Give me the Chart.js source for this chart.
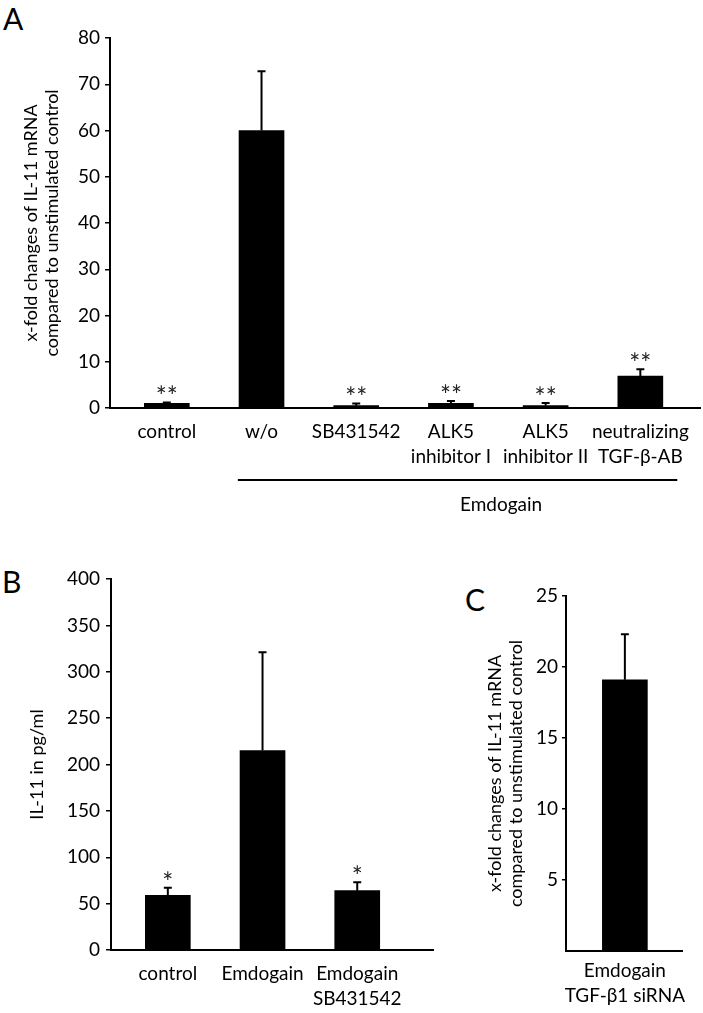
<!DOCTYPE html>
<html>
<head>
<meta charset="utf-8">
<script src="https://cdn.jsdelivr.net/npm/chart.js@4.4.0/dist/chart.umd.min.js"></script>
<style>
  body { margin: 0; background: #fff; }
  #page { position: relative; width: 703px; height: 1013px; font-family: Lato, sans-serif; color: #000; }
  .box { position: absolute; }
  .letter { position: absolute; font-size: 30px; line-height: 1; }
</style>
</head>
<body>
<div id="page">
  <div class="letter" style="left:3px; top:3px;">A</div>
  <div class="letter" style="left:2px; top:566px;">B</div>
  <div class="letter" style="left:465px; top:584px;">C</div>
  <div class="box" style="left:0; top:0;"><canvas id="chartA" width="703" height="520"></canvas></div>
  <div class="box" style="left:0; top:540px;"><canvas id="chartB" width="460" height="473"></canvas></div>
  <div class="box" style="left:440px; top:540px;"><canvas id="chartC" width="263" height="473"></canvas></div>
</div>
<script>
// Panel A - IL-11 mRNA
const catsA = ['control', 'w/o', 'SB431542', ['ALK5', 'inhibitor I'], ['ALK5', 'inhibitor II'], ['neutralizing', 'TGF-β-AB']];
const valuesA = [1.0, 60.0, 0.5, 1.0, 0.5, 6.9];
const errorsA = [0.2, 12.8, 0.5, 0.5, 0.6, 1.5];
const starsA = ['**', '', '**', '**', '**', '**'];
const ticksA = [0, 10, 20, 30, 40, 50, 60, 70, 80];

// Panel B - IL-11 protein
const catsB = ['control', 'Emdogain', ['Emdogain', 'SB431542']];
const valuesB = [59, 215, 64];
const errorsB = [8, 106, 9];
const starsB = ['*', '', '*'];
const ticksB = [0, 50, 100, 150, 200, 250, 300, 350, 400];

// Panel C - siRNA
const catsC = [['Emdogain', 'TGF-β1 siRNA']];
const valuesC = [19.1];
const errorsC = [3.2];
const starsC = [''];
const ticksC = [5, 10, 15, 20, 25];

const titleMRNA = ['x-fold changes of IL-11 mRNA', 'compared to unstimulated control'];

Chart.defaults.font.family = 'Lato, sans-serif';
Chart.defaults.color = '#000';

// error bars (upper only) + significance stars
const errorBars = {
    id: 'errorBars',
    afterDatasetsDraw(chart, args, opts) {
        const ctx = chart.ctx;
        const yScale = chart.scales.y;
        const meta = chart.getDatasetMeta(0);
        ctx.save();
        ctx.strokeStyle = '#000';
        ctx.lineWidth = 2;
        ctx.fillStyle = '#222';
        ctx.font = '26px Lato, sans-serif';
        ctx.textAlign = 'center';
        ctx.textBaseline = 'alphabetic';
        meta.data.forEach((bar, i) => {
            const v = chart.data.datasets[0].data[i].y;
            const top = yScale.getPixelForValue(v + opts.errors[i]);
            ctx.beginPath();
            ctx.moveTo(bar.x, bar.y);
            ctx.lineTo(bar.x, top);
            ctx.moveTo(bar.x - 4, top);
            ctx.lineTo(bar.x + 4, top);
            ctx.stroke();
            if (opts.stars[i]) {
                ctx.fillText(opts.stars[i], bar.x, top + 4);
            }
        });
        // group bracket under the x labels
        if (opts.bracket) {
            const xs = chart.scales.x;
            const b = opts.bracket;
            const yLine = chart.chartArea.bottom + 72;
            ctx.beginPath();
            ctx.moveTo(xs.getPixelForValue(b.from), yLine);
            ctx.lineTo(xs.getPixelForValue(b.to), yLine);
            ctx.stroke();
            ctx.fillStyle = '#000';
            ctx.font = '19px Lato, sans-serif';
            ctx.textBaseline = 'middle';
            ctx.fillText(b.label, xs.getPixelForValue(b.at), yLine + 25);
        }
        ctx.restore();
    }
};

function makeChart(id, cats, values, errors, stars, yTicks, cfg) {
    const ctx = document.getElementById(id).getContext('2d');
    return new Chart(ctx, {
        type: 'bar',
        data: {
            datasets: [{
                data: values.map((v, i) => ({ x: i, y: v })),
                backgroundColor: '#000',
                borderWidth: 0,
                barThickness: 45
            }]
        },
        options: {
            responsive: false,
            animation: false,
            layout: { padding: cfg.padding },
            plugins: {
                legend: { display: false },
                tooltip: { enabled: false },
                errorBars: { errors: errors, stars: stars, bracket: cfg.bracket }
            },
            scales: {
                x: {
                    type: 'linear',
                    offset: false,
                    min: cfg.xMin,
                    max: cfg.xMax,
                    grid: { display: false, drawTicks: false },
                    border: { display: true, color: '#000', width: 2 },
                    afterBuildTicks: s => { s.ticks = cats.map((c, i) => ({ value: i })); },
                    afterFit: s => { s.height = cfg.xHeight; },
                    ticks: {
                        autoSkip: false,
                        maxRotation: 0,
                        minRotation: 0,
                        padding: cfg.xPad,
                        font: { size: 19, lineHeight: 1.28 },
                        callback: v => cats[v]
                    }
                },
                y: {
                    min: 0,
                    max: yTicks[yTicks.length - 1],
                    grid: { drawOnChartArea: false, drawTicks: true, tickLength: cfg.tickLen, color: '#000', lineWidth: 1.5 },
                    border: { display: true, color: '#000', width: 2 },
                    afterBuildTicks: s => { s.ticks = yTicks.map(v => ({ value: v })); },
                    afterFit: s => { s.width = cfg.yWidth; },
                    ticks: { padding: cfg.yPad, font: { size: 19 } },
                    title: {
                        display: true,
                        text: cfg.title,
                        font: { size: 18, lineHeight: 1.15 },
                        padding: { top: cfg.titlePad, bottom: 0 }
                    }
                }
            }
        },
        plugins: [errorBars]
    });
}

makeChart('chartA', catsA, valuesA, errorsA, starsA, ticksA, {
    padding: { top: 38, right: 3, left: 0, bottom: 0 },
    xMin: -0.6, xMax: 5.63, xHeight: 112, xPad: 12,
    yWidth: 110, yPad: 5, tickLen: 5,
    title: titleMRNA, titlePad: 21,
    bracket: { from: 0.75, to: 5.39, at: 3.53, label: 'Emdogain' }
});

makeChart('chartB', catsB, valuesB, errorsB, starsB, ticksB, {
    padding: { top: 39, right: 27, left: 0, bottom: 0 },
    xMin: -0.6, xMax: 2.8, xHeight: 63, xPad: 12,
    yWidth: 111, yPad: 6, tickLen: 5,
    title: 'IL-11 in pg/ml', titlePad: 27
});

makeChart('chartC', catsC, valuesC, errorsC, starsC, ticksC, {
    padding: { top: 56, right: 20, left: 0, bottom: 0 },
    xMin: -0.62, xMax: 0.61, xHeight: 62, xPad: 8,
    yWidth: 126, yPad: 4, tickLen: 4,
    title: titleMRNA, titlePad: 45
});
</script>
</body>
</html>
